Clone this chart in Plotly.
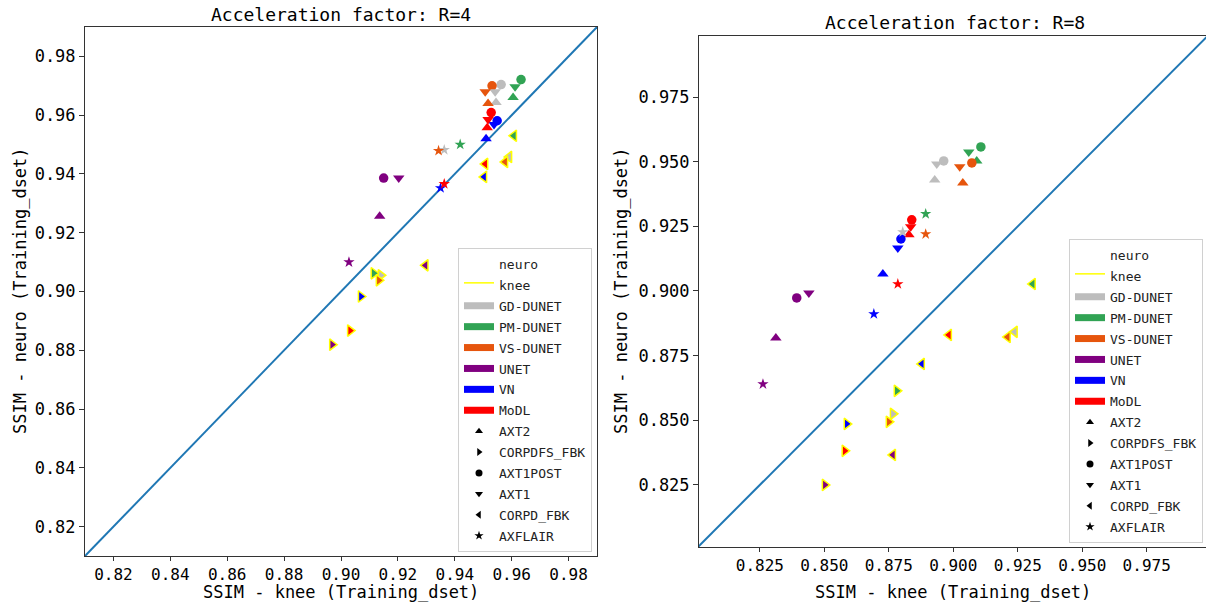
import plotly.graph_objects as go

# Reconstruction methods and their colours
MODELS = ["GD-DUNET", "PM-DUNET", "VS-DUNET", "UNET", "VN", "MoDL"]
MODEL_COLORS = ["#bdbdbd", "#31a354", "#e6550d", "#800080", "#0000ff", "#ff0000"]

# Test datasets and their marker symbols (knee datasets get a yellow edge)
DATASETS = ["AXT2", "CORPDFS_FBK", "AXT1POST", "AXT1", "CORPD_FBK", "AXFLAIR"]
DATASET_SYMBOLS = ["triangle-up", "triangle-right", "circle", "triangle-down", "triangle-left", "star"]
KNEE_DATASETS = ["CORPDFS_FBK", "CORPD_FBK"]

# SSIM values: rows follow MODELS, columns follow DATASETS
R4_KNEE = [
    [0.9545, 0.9140, 0.9563, 0.9542, 0.9591, 0.9363],
    [0.9605, 0.9115, 0.9633, 0.9612, 0.9608, 0.9419],
    [0.9517, 0.9133, 0.9531, 0.9507, 0.9577, 0.9343],
    [0.9136, 0.8969, 0.9150, 0.9203, 0.9297, 0.9028],
    [0.9510, 0.9070, 0.9549, 0.9538, 0.9503, 0.9350],
    [0.9514, 0.9032, 0.9528, 0.9517, 0.9507, 0.9363],
]
R4_NEURO = [
    [0.9643, 0.9055, 0.9704, 0.9680, 0.9458, 0.9482],
    [0.9660, 0.9062, 0.9721, 0.9697, 0.9530, 0.9500],
    [0.9640, 0.9038, 0.9700, 0.9680, 0.9441, 0.9479],
    [0.9256, 0.8819, 0.9386, 0.9386, 0.9089, 0.9100],
    [0.9520, 0.8983, 0.9581, 0.9568, 0.9390, 0.9352],
    [0.9557, 0.8867, 0.9609, 0.9585, 0.9434, 0.9366],
]
R8_KNEE = [
    [0.8928, 0.8766, 0.8963, 0.8936, 0.9238, 0.8804],
    [0.9091, 0.8781, 0.9107, 0.9060, 0.9308, 0.8893],
    [0.9037, 0.8750, 0.9072, 0.9025, 0.9211, 0.8893],
    [0.8312, 0.8502, 0.8393, 0.8440, 0.8766, 0.8262],
    [0.8727, 0.8587, 0.8797, 0.8785, 0.8878, 0.8692],
    [0.8828, 0.8579, 0.8839, 0.8835, 0.8983, 0.8785],
]
R8_NEURO = [
    [0.9429, 0.8525, 0.9503, 0.9491, 0.8842, 0.9228],
    [0.9503, 0.8614, 0.9557, 0.9537, 0.9027, 0.9298],
    [0.9418, 0.8494, 0.9495, 0.9480, 0.8822, 0.9220],
    [0.8818, 0.8250, 0.8973, 0.8992, 0.8366, 0.8640],
    [0.9066, 0.8486, 0.9201, 0.9166, 0.8718, 0.8911],
    [0.9217, 0.8382, 0.9275, 0.9248, 0.8830, 0.9027],
]

R4_TICKS = [0.82, 0.84, 0.86, 0.88, 0.90, 0.92, 0.94, 0.96, 0.98]
R8_TICKS = [0.825, 0.850, 0.875, 0.900, 0.925, 0.950, 0.975]
IDENTITY = [0.80, 1.00]

FONT = "DejaVu Sans Mono"
W, H = 1206, 603

fig = go.Figure()

panels = [
    ("x", "y", "legend", R4_KNEE, R4_NEURO),
    ("x2", "y2", "legend2", R8_KNEE, R8_NEURO),
]

for xa, ya, leg, knee_vals, neuro_vals in panels:
    # identity line y = x
    fig.add_trace(go.Scatter(
        x=IDENTITY, y=IDENTITY, mode="lines", xaxis=xa, yaxis=ya,
        line=dict(color="#1f77b4", width=2), showlegend=False, hoverinfo="skip"))

    for j, (ds, sym) in enumerate(zip(DATASETS, DATASET_SYMBOLS)):
        is_knee = ds in KNEE_DATASETS
        size = 9.5 if sym == "circle" else (8.5 if sym == "star" else 10)
        fig.add_trace(go.Scatter(
            x=[row[j] for row in knee_vals],
            y=[row[j] for row in neuro_vals],
            mode="markers", xaxis=xa, yaxis=ya, name=ds, showlegend=False,
            text=MODELS,
            marker=dict(
                symbol=sym, size=size, color=MODEL_COLORS,
                line=dict(color="#ffff00" if is_knee else "rgba(0,0,0,0)",
                          width=1.5 if is_knee else 0),
            ),
        ))

    # legend entries
    fig.add_trace(go.Scatter(
        x=[None], y=[None], mode="markers", xaxis=xa, yaxis=ya, name="neuro",
        legend=leg, legendgroup=leg + "neuro",
        marker=dict(size=1, color="rgba(0,0,0,0)")))
    fig.add_trace(go.Scatter(
        x=[None], y=[None], mode="lines", fill="toself", fillcolor="white",
        xaxis=xa, yaxis=ya, name="knee", legend=leg, legendgroup=leg + "knee",
        line=dict(color="#ffff00", width=1.5)))
    for m, c in zip(MODELS, MODEL_COLORS):
        fig.add_trace(go.Scatter(
            x=[None], y=[None], mode="lines", xaxis=xa, yaxis=ya, name=m,
            legend=leg, legendgroup=leg + m, line=dict(color=c, width=7)))
    for ds, sym in zip(DATASETS, DATASET_SYMBOLS):
        fig.add_trace(go.Scatter(
            x=[None], y=[None], mode="markers", xaxis=xa, yaxis=ya, name=ds,
            legend=leg, legendgroup=leg + ds,
            marker=dict(symbol=sym, color="black", size=7)))


def axis_style(domain, rng, ticks, fmt, anchor, mirror=True, font_size=17, ticklen=5):
    return dict(
        domain=domain, range=rng, tickvals=ticks, tickformat=fmt, anchor=anchor,
        showgrid=False, zeroline=False, showline=True, mirror=mirror,
        linecolor="#333333", linewidth=1, ticks="outside", ticklen=ticklen,
        tickcolor="#333333", tickfont=dict(family=FONT, size=font_size, color="black"),
    )


legend_common = dict(
    font=dict(family=FONT, size=13, color="#222222"),
    bgcolor="white", bordercolor="#d0d0d0", borderwidth=1,
    traceorder="grouped", tracegroupgap=1, itemwidth=30,
)

fig.update_layout(
    width=W, height=H,
    margin=dict(l=0, r=0, t=0, b=0),
    paper_bgcolor="white", plot_bgcolor="white",
    showlegend=True,
    xaxis=axis_style([85 / W, 597 / W], [0.81, 0.99], R4_TICKS, ".2f", "y",
                     font_size=16, ticklen=4),
    yaxis=axis_style([1 - 556 / H, 1 - 27 / H], [0.81, 0.99], R4_TICKS, ".2f", "x"),
    xaxis2=axis_style([699 / W, 1.0], [0.8014, 0.998], R8_TICKS, ".3f", "y2",
                      font_size=16, ticklen=4),
    yaxis2=axis_style([1 - 547 / H, 1 - 36 / H], [0.801, 0.9986], R8_TICKS, ".3f", "x2",
                      mirror=False),
    legend=dict(x=592 / W, y=1 - 552 / H, xanchor="right", yanchor="bottom", **legend_common),
    legend2=dict(x=1203 / W, y=1 - 543 / H, xanchor="right", yanchor="bottom", **legend_common),
)

# top spine for the right panel (no right spine)
fig.update_layout(xaxis2=dict(mirror=True))

annotations = [
    ("Acceleration factor: R=4", 341, 14, 18, 0),
    ("Acceleration factor: R=8", 955, 22, 18, 0),
    ("SSIM - knee (Training_dset)", 341, 592, 17, 0),
    ("SSIM - knee (Training_dset)", 953, 592, 17, 0),
    ("SSIM - neuro (Training_dset)", 20, 291, 17, -90),
    ("SSIM - neuro (Training_dset)", 621, 291, 17, -90),
]
for text, px, py, fs, ang in annotations:
    fig.add_annotation(
        text=text, x=px / W, y=1 - py / H, xref="paper", yref="paper",
        xanchor="center", yanchor="middle", showarrow=False, textangle=ang,
        font=dict(family=FONT, size=fs, color="black"))

fig.write_html("out.html")
